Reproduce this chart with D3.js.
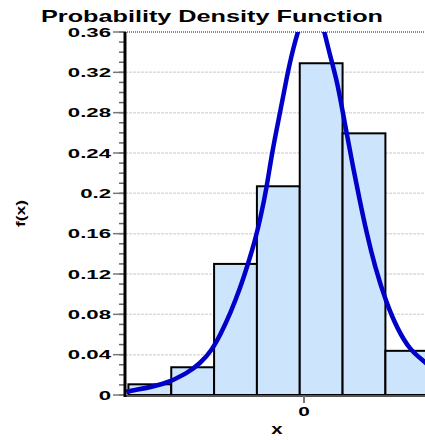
<!DOCTYPE html>
<html>
<head>
<meta charset="utf-8">
<script src="https://cdn.jsdelivr.net/npm/d3@7"></script>
<style>
  html, body { margin: 0; padding: 0; background: #fff; overflow: hidden; }
  text { font-family: "Liberation Sans", Arial, sans-serif; font-weight: bold; }
</style>
</head>
<body>
<div id="chart"></div>
<script>
// histogram bins (edges in units of bin width) and heights
const binEdges = [-4.1, -3.1, -2.1, -1.1, -0.1, 0.9, 1.9, 2.9];
const binDensity = [0.0106, 0.0275, 0.130, 0.207, 0.329, 0.2595, 0.0438];

// density curve
const curveX = [-4.15, -4.05, -3.28, -2.73, -2.42, -2.15, -1.95, -1.72, -1.49, -1.30, -1.14, -1.02,
                -0.87, -0.75, -0.56, -0.40, -0.26, -0.09, 0.05, 0.21, 0.33, 0.44, 0.60, 0.76, 0.877, 0.99,
                1.14, 1.30, 1.46, 1.65, 1.92, 2.19, 2.47, 2.77, 2.95];
const curveY = [0.0030, 0.0043, 0.0099, 0.0215, 0.0315, 0.0445, 0.060, 0.081, 0.106, 0.131, 0.154, 0.175,
                0.206, 0.240, 0.280, 0.316, 0.343, 0.368, 0.384, 0.392, 0.384, 0.366, 0.338, 0.313, 0.287, 0.261,
                0.227, 0.193, 0.161, 0.128, 0.0915, 0.0646, 0.0450, 0.0345, 0.028];

const yMajor = [0, 0.04, 0.08, 0.12, 0.16, 0.2, 0.24, 0.28, 0.32, 0.36];
const yMajorLabels = ["0", "0.04", "0.08", "0.12", "0.16", "0.2", "0.24", "0.28", "0.32", "0.36"];
const xTicks = [0];
const xTickLabels = ["0"];

const chartWidth = 425, chartHeight = 440;
const plotLeft = 125, plotTop = 32, plotBottom = 395;

const x = d3.scaleLinear().domain([-4.18, 3.0]).range([plotLeft, plotLeft + 7.18 * 42.83]);
const y = d3.scaleLinear().domain([0, 0.36]).range([plotBottom, plotTop]);

const svg = d3.select("#chart")
    .append("svg")
    .attr("width", chartWidth)
    .attr("height", chartHeight);

svg.append("defs")
    .append("clipPath")
    .attr("id", "plotClip")
    .append("rect")
    .attr("x", plotLeft)
    .attr("y", plotTop)
    .attr("width", chartWidth - plotLeft)
    .attr("height", plotBottom - plotTop + 2);

// title
svg.append("text")
    .attr("x", 41)
    .attr("y", 21.5)
    .attr("textLength", 342)
    .attr("lengthAdjust", "spacingAndGlyphs")
    .style("font-size", "17px")
    .style("fill", "#000")
    .text("Probability Density Function");

// horizontal grid
svg.append("g")
    .selectAll("line")
    .data(yMajor.filter(d => d > 0 && d < 0.36))
    .enter()
    .append("line")
    .attr("x1", plotLeft)
    .attr("x2", chartWidth)
    .attr("y1", d => y(d))
    .attr("y2", d => y(d))
    .style("stroke", "#dcdcdc")
    .style("stroke-width", 1.5)
    .style("stroke-dasharray", "3,1");

// top border (dotted)
svg.append("line")
    .attr("x1", plotLeft)
    .attr("x2", chartWidth)
    .attr("y1", y(0.36))
    .attr("y2", y(0.36))
    .style("stroke", "#888")
    .style("stroke-width", 2)
    .style("stroke-dasharray", "1,1");

const plot = svg.append("g").attr("clip-path", "url(#plotClip)");

// bars
plot.append("g")
    .selectAll("rect")
    .data(binDensity)
    .enter()
    .append("rect")
    .attr("x", (d, i) => x(binEdges[i]))
    .attr("y", d => y(d))
    .attr("width", (d, i) => x(binEdges[i + 1]) - x(binEdges[i]))
    .attr("height", d => y(0) - y(d))
    .style("fill", "#cce4fc")
    .style("stroke", "#000")
    .style("stroke-width", 2);

// density curve
const line = d3.line()
    .x(d => x(d[0]))
    .y(d => y(d[1]))
    .curve(d3.curveBasis);

plot.append("path")
    .datum(curveX.map((d, i) => [d, curveY[i]]))
    .attr("d", line)
    .style("fill", "none")
    .style("stroke", "#0000c8")
    .style("stroke-width", 4.5)
    .style("stroke-linejoin", "round");

// x axis line
svg.append("line")
    .attr("x1", plotLeft)
    .attr("x2", chartWidth)
    .attr("y1", plotBottom + 1)
    .attr("y2", plotBottom + 1)
    .style("stroke", "#555")
    .style("stroke-width", 2);

// x ticks
svg.append("g")
    .selectAll("line")
    .data(xTicks)
    .enter()
    .append("line")
    .attr("x1", d => x(d))
    .attr("x2", d => x(d))
    .attr("y1", plotBottom + 1)
    .attr("y2", plotBottom + 8)
    .style("stroke", "#777")
    .style("stroke-width", 2);

svg.append("g")
    .selectAll("text")
    .data(xTicks)
    .enter()
    .append("text")
    .attr("transform", d => `translate(${x(d)}, 416) scale(1.6, 1)`)
    .style("text-anchor", "middle")
    .style("font-size", "13px")
    .text((d, i) => xTickLabels[i]);

// y minor ticks
svg.append("g")
    .selectAll("line")
    .data(d3.range(0, 37).map(i => i / 100))
    .enter()
    .append("line")
    .attr("x1", plotLeft - 6)
    .attr("x2", plotLeft)
    .attr("y1", d => y(d))
    .attr("y2", d => y(d))
    .style("stroke", "#666")
    .style("stroke-width", 1.5);

// y major ticks
svg.append("g")
    .selectAll("line")
    .data(yMajor)
    .enter()
    .append("line")
    .attr("x1", plotLeft - 12)
    .attr("x2", plotLeft)
    .attr("y1", d => y(d))
    .attr("y2", d => y(d))
    .style("stroke", "#777")
    .style("stroke-width", 1.5);

svg.append("g")
    .selectAll("text")
    .data(yMajor)
    .enter()
    .append("text")
    .attr("transform", d => `translate(111, ${y(d) + 4.5}) scale(1.85, 1)`)
    .style("text-anchor", "end")
    .style("font-size", "12px")
    .text((d, i) => yMajorLabels[i]);

// y axis line
svg.append("line")
    .attr("x1", plotLeft)
    .attr("x2", plotLeft)
    .attr("y1", plotTop)
    .attr("y2", plotBottom + 2)
    .style("stroke", "#000")
    .style("stroke-width", 3);

// axis titles
svg.append("text")
    .attr("transform", "translate(277, 434) scale(1.45, 1)")
    .style("text-anchor", "middle")
    .style("font-size", "14px")
    .text("x");

svg.append("text")
    .attr("transform", "translate(25, 227) rotate(-90)")
    .attr("x", 0)
    .attr("y", 0)
    .attr("textLength", 27)
    .attr("lengthAdjust", "spacingAndGlyphs")
    .style("font-size", "13px")
    .text("f(x)");
</script>
</body>
</html>
